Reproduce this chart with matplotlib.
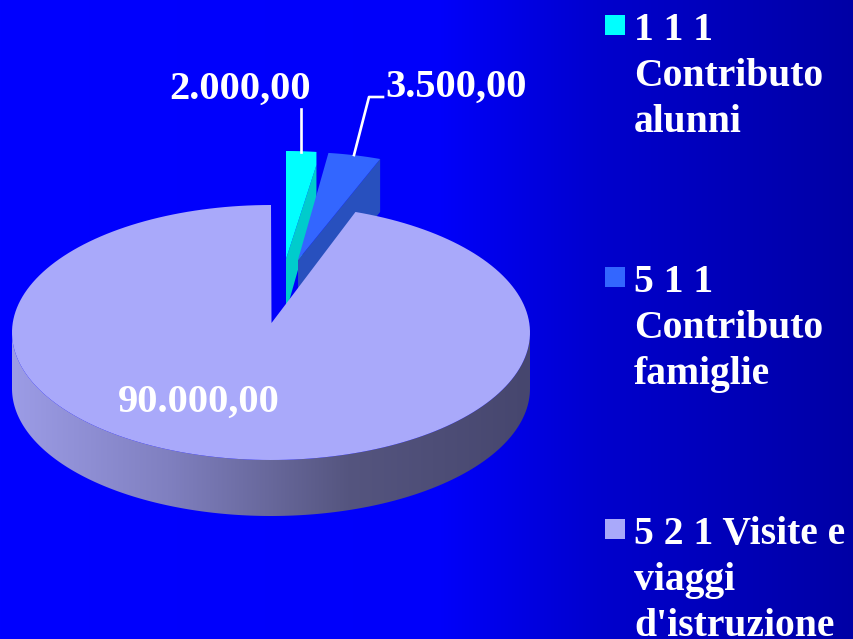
import matplotlib
matplotlib.use('Agg')
import matplotlib.pyplot as plt
import numpy as np

from matplotlib.colors import LinearSegmentedColormap
from matplotlib.patches import Polygon, Rectangle

FIGURE_XSIZE = 8.54
FIGURE_YSIZE = 6.39
WIDTH = 854
HEIGHT = 639

plt.rcParams['font.family'] = ['Liberation Serif', 'DejaVu Serif']

# chart data
categories = ["1 1 1\nContributo\nalunni",
              "5 1 1\nContributo\nfamiglie",
              "5 2 1 Visite e\nviaggi\nd'istruzione"]
values = [2000, 3500, 90000]
value_labels = ["2.000,00", "3.500,00", "90.000,00"]

TOP_COLORS = ['#00FFFF', '#3366FF', '#A9A9FA']
CUT_COLORS = ['#00CCCC', '#2850BE', '#8080C0']

# geometry of the tilted pie, in pixels
SMALL_RX, SMALL_RY = 232, 108
SMALL_TIPS = [(286, 259), (298, 260)]
SMALL_DEPTH = 53
SMALL_CUT_DROP = [13, 0]
MAIN_CENTER = (271, 332.5)
MAIN_TIP = (271.5, 323)
MAIN_RX, MAIN_RY = 259, 127.5
MAIN_DEPTH = 56
MAIN_PERSPECTIVE = -1.7  # degrees, the pulled out slices narrow the big one a bit


def arc_points(center, rx, ry, start, stop, dy=0):
    # angles in degrees, clockwise from twelve o'clock
    t = np.radians(np.linspace(start, stop, 200))
    return np.column_stack([center[0] + rx * np.sin(t),
                            center[1] - ry * np.cos(t) + dy])


def draw_small_slice(axes, tip, start, stop, drop, top_color, cut_color):
    arc = arc_points(tip, SMALL_RX, SMALL_RY, start, stop)
    end = arc[-1]
    cut_start = (end[0], end[1] + drop)
    # visible cut face below the trailing edge
    cut = np.array([tip, cut_start, (end[0], end[1] + SMALL_DEPTH),
                    (tip[0], tip[1] + SMALL_DEPTH)])
    axes.add_patch(Polygon(cut, closed=True, facecolor=cut_color, edgecolor='none'))
    top = np.vstack([[tip], arc, [cut_start]])
    axes.add_patch(Polygon(top, closed=True, facecolor=top_color, edgecolor='none'))


figure = plt.figure(figsize=(FIGURE_XSIZE, FIGURE_YSIZE), dpi=100)
axes = figure.add_axes([0, 0, 1, 1])
axes.set_xlim(0, WIDTH)
axes.set_ylim(HEIGHT, 0)
axes.axis('off')

# background, pure blue fading darker to the right
back_x = np.array([0, 440, 600, 854])
back_b = np.array([255, 250, 205, 165])
row = np.interp(np.arange(WIDTH), back_x, back_b) / 255
back = np.zeros((1, WIDTH, 3))
back[0, :, 2] = row
axes.imshow(back, extent=(0, WIDTH, HEIGHT, 0), aspect='auto', zorder=0)

angles = np.cumsum([0] + values) / sum(values) * 360

# the two pulled out slices
for i in range(2):
    draw_small_slice(axes, SMALL_TIPS[i], angles[i], angles[i + 1], SMALL_CUT_DROP[i],
                     TOP_COLORS[i], CUT_COLORS[i])

# rim of the big slice, shaded from left to right
front = arc_points(MAIN_CENTER, MAIN_RX, MAIN_RY, 90, 270)
rim = np.vstack([front, arc_points(MAIN_CENTER, MAIN_RX, MAIN_RY, 270, 90, dy=MAIN_DEPTH)])
rim_patch = Polygon(rim, closed=True, facecolor='none', edgecolor='none')
axes.add_patch(rim_patch)
rim_cmap = LinearSegmentedColormap.from_list('rim', [(0.0, '#9C9CE6'), (0.3, '#8080C0'),
                                                     (0.65, '#55557F'), (1.0, '#46466E')])
rim_image = axes.imshow(np.linspace(0, 1, 256).reshape(1, -1), cmap=rim_cmap,
                        extent=(12, 530, 520, 300), aspect='auto', zorder=1.5)
rim_image.set_clip_path(rim_patch)

# top of the big slice
main_arc = arc_points(MAIN_CENTER, MAIN_RX, MAIN_RY, angles[2] + MAIN_PERSPECTIVE, angles[3])
main_top = np.vstack([[MAIN_TIP], main_arc])
axes.add_patch(Polygon(main_top, closed=True, facecolor=TOP_COLORS[2], edgecolor='none', zorder=2))
axes.set_xlim(0, WIDTH)
axes.set_ylim(HEIGHT, 0)

# value labels and leader lines
label_style = dict(color='white', fontsize=29.2, fontweight='bold', zorder=4)
axes.text(240.5, 99, value_labels[0], ha='center', va='baseline', **label_style)
axes.text(456, 97, value_labels[1], ha='center', va='baseline', **label_style)
axes.text(198.5, 412, value_labels[2], ha='center', va='baseline', **label_style)
axes.plot([301.5, 301.5], [109, 152], color='white', linewidth=1.9, zorder=3)
axes.plot([354, 369, 383], [155, 97, 97], color='white', linewidth=1.9, zorder=3)

# legend
legend_tops = [15, 267, 519]
for i in range(3):
    axes.add_patch(Rectangle((605, legend_tops[i]), 20, 20, facecolor=TOP_COLORS[i],
                             edgecolor='none', zorder=3))
    axes.text(634, legend_tops[i] + 117, categories[i], color='white', fontsize=28.5,
              fontweight='bold', ha='left', va='baseline', linespacing=1.33, zorder=4)

figure.savefig('out.png', dpi=100)
